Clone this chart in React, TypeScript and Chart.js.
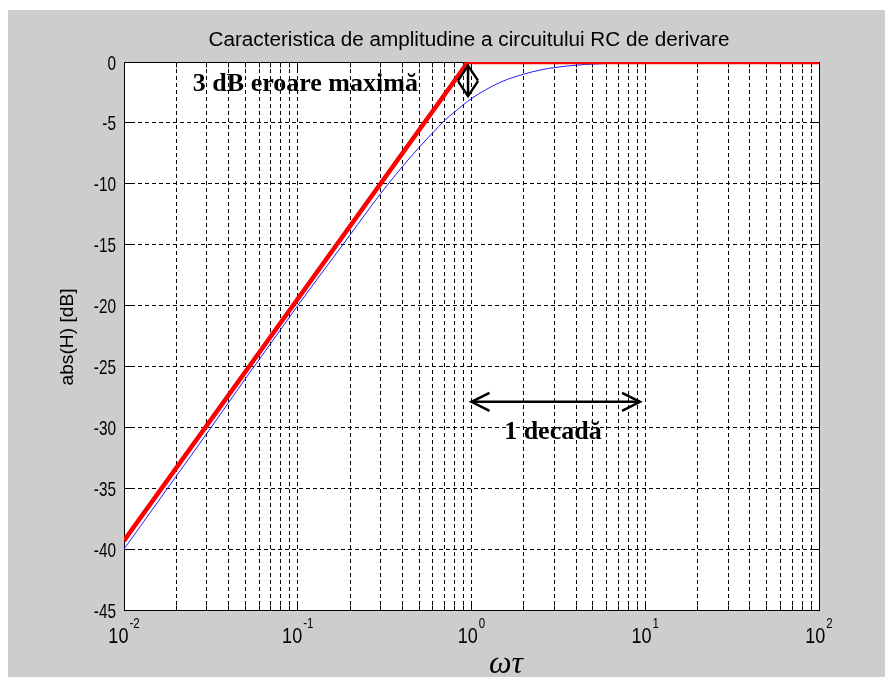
import React, { useEffect, useRef } from "react";
import { Chart, registerables } from "chart.js";
Chart.register(...registerables);

// ---------- data ----------
const TITLE = "Caracteristica de amplitudine a circuitului RC de derivare";
const Y_TITLE = "abs(H) [dB]";
const X_TITLE = "ωτ";
const NOTE_ERROR = "3 dB eroare maximă";
const NOTE_DECADE = "1 decadă";

// blue curve: exact response
const freqBlue = [0.01, 0.02, 0.03, 0.05, 0.07, 0.1, 0.15, 0.2, 0.3, 0.4, 0.5, 0.6, 0.7, 0.8, 0.9, 1, 1.2, 1.5, 2, 2.5, 3, 4, 5, 7, 10, 20, 50, 100];
const gainBlue = [-40, -34, -30.5, -26, -23.1, -20, -16.6, -14.2, -10.8, -8.6, -7, -5.8, -4.8, -4.1, -3.5, -3, -2.3, -1.6, -1.0, -0.65, -0.46, -0.26, -0.17, -0.09, -0.04, -0.01, 0, 0];

// red curve: asymptotic approximation
const freqAsym = [0.01, 0.955, 100];
const gainAsym = [-39.3, 0, 0];

// axes
const X_MIN = 0.01;
const X_MAX = 100;
const X_DECADE_EXPONENTS = [-2, -1, 0, 1, 2];
const X_TICK_BASE = "10";
const X_TICK_EXP_LABELS = ["-2", "-1", "0", "1", "2"];
const X_MINOR_MULTIPLIERS = [2, 3, 4, 5, 6, 7, 8, 9];
const Y_TICKS = [0, -5, -10, -15, -20, -25, -30, -35, -40, -45];
const Y_TICK_LABELS = ["0", "-5", "-10", "-15", "-20", "-25", "-30", "-35", "-40", "-45"];

// annotation anchors (data coordinates)
const ERR_TEXT_AT = { x: 0.0249, y: -2.42 };
const ERR_ARROW = { x: 0.955, y1: -0.3, y2: -2.8 };
const DEC_ARROW = { x1: 1.0, x2: 9.33, y: -27.9 };
const DEC_TEXT_AT = { x: 2.94, y: -30.94 };

// ---------- styles ----------
const BG = "#cdcdcd";
const SANS = '"Liberation Sans", Arial, sans-serif';
const SERIF = '"Liberation Serif", "Times New Roman", serif';

const W = 885;
const H = 667;

function makeXGridValues() {
  const vals: number[] = [];
  X_DECADE_EXPONENTS.forEach((e, i) => {
    const base = Math.pow(10, e);
    vals.push(base);
    if (i < X_DECADE_EXPONENTS.length - 1) {
      X_MINOR_MULTIPLIERS.forEach((m) => vals.push(m * base));
    }
  });
  return vals;
}

function text(ctx: CanvasRenderingContext2D, s: string, x: number, y: number, font: string, align: CanvasTextAlign, sx = 1, baseline: CanvasTextBaseline = "alphabetic") {
  ctx.save();
  ctx.font = font;
  ctx.translate(x, y);
  ctx.scale(sx, 1);
  ctx.textAlign = align;
  ctx.textBaseline = baseline;
  ctx.fillStyle = "#000";
  ctx.fillText(s, 0, 0);
  ctx.restore();
}

function fitText(ctx: CanvasRenderingContext2D, s: string, cx: number, y: number, font: string, width: number) {
  ctx.save();
  ctx.font = font;
  const w = ctx.measureText(s).width;
  ctx.restore();
  text(ctx, s, cx, y, font, "center", width / w);
}

function arrowHead(ctx: CanvasRenderingContext2D, tx: number, ty: number, dx: number, dy: number, len: number, half: number) {
  const n = Math.hypot(dx, dy);
  const ux = dx / n, uy = dy / n;
  const px = -uy, py = ux;
  const bx = tx - ux * len, by = ty - uy * len;
  ctx.beginPath();
  ctx.moveTo(bx + px * half, by + py * half);
  ctx.lineTo(tx, ty);
  ctx.lineTo(bx - px * half, by - py * half);
  ctx.stroke();
}

const align = (p: number) => Math.round(p - 0.5) + 0.5;

const matlabPlugin = {
  id: "matlabLook",
  beforeDraw(chart: any) {
    const { ctx, chartArea: a } = chart;
    ctx.save();
    ctx.fillStyle = BG;
    ctx.fillRect(0, 0, chart.width, chart.height);
    ctx.fillStyle = "#fff";
    ctx.fillRect(a.left, a.top, a.right - a.left, a.bottom - a.top);
    ctx.restore();
  },
  beforeDatasetsDraw(chart: any) {
    const { ctx, chartArea: a, scales } = chart;
    const xs = scales.x, ys = scales.y;
    ctx.save();
    ctx.strokeStyle = "#000";
    ctx.lineWidth = 1;
    ctx.setLineDash([]);
    const L = align(a.left), R = align(a.right), T = align(a.top), B = align(a.bottom);
    ctx.strokeRect(L, T, R - L, B - T);
    ctx.beginPath();
    Y_TICKS.forEach((v) => {
      const py = align(ys.getPixelForValue(v));
      ctx.moveTo(L, py); ctx.lineTo(L + 9, py);
      ctx.moveTo(R, py); ctx.lineTo(R - 9, py);
    });
    X_DECADE_EXPONENTS.forEach((e, i) => {
      const base = Math.pow(10, e);
      const px = align(xs.getPixelForValue(base));
      ctx.moveTo(px, B); ctx.lineTo(px, B - 9);
      ctx.moveTo(px, T); ctx.lineTo(px, T + 9);
      if (i < X_DECADE_EXPONENTS.length - 1) {
        X_MINOR_MULTIPLIERS.forEach((m) => {
          const qx = align(xs.getPixelForValue(m * base));
          ctx.moveTo(qx, B); ctx.lineTo(qx, B - 5);
          ctx.moveTo(qx, T); ctx.lineTo(qx, T + 5);
        });
      }
    });
    ctx.stroke();
    ctx.restore();
  },
  afterDatasetsDraw(chart: any) {
    const { ctx, scales } = chart;
    const xs = scales.x, ys = scales.y;
    ctx.save();
    ctx.strokeStyle = "#000";
    ctx.lineWidth = 2.5;
    ctx.setLineDash([]);
    // vertical double arrow (3 dB)
    const vx = xs.getPixelForValue(ERR_ARROW.x);
    const vy1 = ys.getPixelForValue(ERR_ARROW.y1);
    const vy2 = ys.getPixelForValue(ERR_ARROW.y2);
    ctx.beginPath(); ctx.moveTo(vx, vy1); ctx.lineTo(vx, vy2); ctx.stroke();
    arrowHead(ctx, vx, vy1, 0, -1, 15, 10);
    arrowHead(ctx, vx, vy2, 0, 1, 15, 10);
    // horizontal double arrow (1 decade)
    const hx1 = xs.getPixelForValue(DEC_ARROW.x1);
    const hx2 = xs.getPixelForValue(DEC_ARROW.x2);
    const hy = ys.getPixelForValue(DEC_ARROW.y);
    ctx.beginPath(); ctx.moveTo(hx1, hy); ctx.lineTo(hx2, hy); ctx.stroke();
    arrowHead(ctx, hx1, hy, -1, 0, 18, 9);
    arrowHead(ctx, hx2, hy, 1, 0, 18, 9);
    ctx.restore();
    text(ctx, NOTE_ERROR, xs.getPixelForValue(ERR_TEXT_AT.x), ys.getPixelForValue(ERR_TEXT_AT.y), `bold 26px ${SERIF}`, "left");
    text(ctx, NOTE_DECADE, xs.getPixelForValue(DEC_TEXT_AT.x), ys.getPixelForValue(DEC_TEXT_AT.y), `bold 26px ${SERIF}`, "center");
  },
  afterDraw(chart: any) {
    const { ctx, chartArea: a, scales } = chart;
    const xs = scales.x, ys = scales.y;
    // y tick labels
    Y_TICKS.forEach((v, i) => {
      const py = ys.getPixelForValue(v);
      text(ctx, Y_TICK_LABELS[i], a.left - 8, py + 7.5, `21px ${SANS}`, "right", 0.73);
    });
    // x tick labels with superscript exponents
    X_DECADE_EXPONENTS.forEach((e, i) => {
      const px = xs.getPixelForValue(Math.pow(10, e));
      ctx.save();
      ctx.font = `22px ${SANS}`;
      const wb = ctx.measureText(X_TICK_BASE).width * 0.82;
      ctx.font = `14px ${SANS}`;
      const we = ctx.measureText(X_TICK_EXP_LABELS[i]).width * 0.82;
      ctx.restore();
      const start = px - (wb + we + 1) / 2;
      text(ctx, X_TICK_BASE, start, a.bottom + 33, `22px ${SANS}`, "left", 0.82);
      text(ctx, X_TICK_EXP_LABELS[i], start + wb + 1, a.bottom + 18, `14px ${SANS}`, "left", 0.82);
    });
    // title
    fitText(ctx, TITLE, 461, 36, `20px ${SANS}`, 521);
    // y axis title
    ctx.save();
    ctx.translate(60, 327);
    ctx.rotate(-Math.PI / 2);
    ctx.font = `18px ${SANS}`;
    const wy = ctx.measureText(Y_TITLE).width;
    ctx.scale(97 / wy, 1);
    ctx.textAlign = "center";
    ctx.textBaseline = "middle";
    ctx.fillStyle = "#000";
    ctx.fillText(Y_TITLE, 0, 0);
    ctx.restore();
    // x axis title
    text(ctx, X_TITLE, 498, 663, `italic 32px ${SERIF}`, "center");
  },
};

export default function App() {
  const ref = useRef<HTMLCanvasElement | null>(null);
  useEffect(() => {
    if (!ref.current) return;
    const xGrid = makeXGridValues();
    const grid = { color: "#000", lineWidth: 1, drawTicks: false, borderDash: [4, 3] };
    const border = { display: false, dash: [4, 3] };
    const chart = new Chart(ref.current, {
      type: "line",
      data: {
        datasets: [
          {
            label: "asimptotic",
            data: freqAsym.map((f, i) => ({ x: f, y: gainAsym[i] })),
            borderColor: "#ff0000",
            borderWidth: 4.5,
            pointRadius: 0,
            tension: 0,
          },
          {
            label: "exact",
            data: freqBlue.map((f, i) => ({ x: f, y: gainBlue[i] })),
            borderColor: "rgb(30,30,255)",
            borderWidth: 1,
            pointRadius: 0,
            cubicInterpolationMode: "monotone",
          },
        ],
      },
      options: {
        animation: false,
        responsive: false,
        devicePixelRatio: 1,
        parsing: false,
        layout: { padding: { left: 0, right: W - 811, top: 52, bottom: 0 } },
        plugins: { legend: { display: false }, title: { display: false }, tooltip: { enabled: false } },
        scales: {
          x: {
            type: "logarithmic",
            min: X_MIN,
            max: X_MAX,
            position: "bottom",
            afterBuildTicks: (s: any) => {
              s.ticks = xGrid.map((v) => ({ value: v }));
            },
            ticks: { display: false },
            grid,
            border,
            afterFit: (s: any) => {
              s.height = H - 600;
            },
          },
          y: {
            type: "linear",
            min: -45,
            max: 0,
            afterBuildTicks: (s: any) => {
              s.ticks = Y_TICKS.map((v) => ({ value: v }));
            },
            ticks: { display: false },
            grid,
            border,
            afterFit: (s: any) => {
              s.width = 116;
            },
          },
        },
      } as any,
      plugins: [matlabPlugin],
    });
    return () => chart.destroy();
  }, []);
  return (
    <div style={{ paddingTop: 2 }}>
      <canvas ref={ref} width={W} height={H} style={{ display: "block", width: W, height: H }} />
    </div>
  );
}
